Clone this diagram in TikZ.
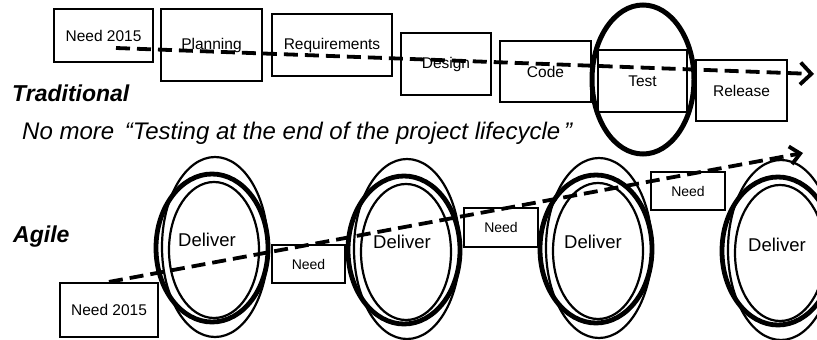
\documentclass[tikz,border=0pt]{standalone}
\usepackage{fontspec}
\setmainfont{Liberation Sans}
\usetikzlibrary{arrows.meta}
\newcommand{\deliverrings}[2]{%
\draw[ring]({#1+2},{#2-1}) ellipse [x radius=53,y radius=90];
\draw[thickring]({#1-1},#2) ellipse [x radius=56,y radius=74];
\draw[ring]({#1+1},{#2+2}) ellipse [x radius=45,y radius=68];}
\begin{document}
\begin{tikzpicture}[x=1pt,y=-1pt,
stage/.style={draw,line width=2.2pt,inner sep=0pt,font=\fontsize{15.5}{18}\selectfont},
need/.style={draw,line width=2pt,inner sep=0pt,font=\fontsize{14}{16}\selectfont},
deliver/.style={inner sep=0pt,font=\fontsize{18.5}{21}\selectfont},
flow/.style={line width=3.8pt,dash pattern=on 14pt off 7pt},
ring/.style={line width=2.2pt},
thickring/.style={line width=4.8pt},
head/.style={anchor=west,inner sep=0pt,font=\fontsize{23}{26}\selectfont\bfseries\itshape}]
\useasboundingbox(0,0) rectangle (817,340);
% traditional
\node[stage,minimum width=99,minimum height=53](tneed) at (103.5,35.5){Need 2015};
\node[stage,minimum width=101,minimum height=72](plan) at (211.5,45){Planning};
\node[stage,minimum width=120,minimum height=62](req) at (332,45){Requirements};
\node[stage,minimum width=90,minimum height=62](design) at (446,64){Design};
\node[stage,minimum width=91,minimum height=61](code) at (545.5,71.5){Code};
\node[stage,minimum width=89,minimum height=62](test) at (642.5,81){Test};
\node[stage,minimum width=91,minimum height=61](release) at (741.5,90.5){Release};
\draw[line width=5pt](643,79.5) ellipse [x radius=51,y radius=74.5];
\coordinate(tstart) at (116,48);
\coordinate(tend) at (814,74);
\draw[flow,-{Straight Barb[length=11pt,width=22pt]}](tstart)--(tend);
\node[head](trad) at (12,93){Traditional};
\node[anchor=west,inner sep=0pt,font=\fontsize{24}{27}\selectfont\itshape](nomore) at (22,133){No more \,“Testing at the end of the project lifecycle\,”};
% agile
\node[head](agile) at (13,237){Agile};
\deliverrings{213}{248}
\deliverrings{405}{250}
\deliverrings{597}{249}
\deliverrings{779}{251}
\node[deliver](d1) at (207,240){Deliver};
\node[deliver](d2) at (402,242){Deliver};
\node[deliver](d3) at (593,242){Deliver};
\node[deliver](d4) at (777,245){Deliver};
\node[stage,minimum width=98,minimum height=54](aneed) at (109,310){Need 2015};
\node[need,minimum width=73,minimum height=38](need1) at (308.5,264){Need};
\node[need,minimum width=74,minimum height=39](need2) at (501,227.5){Need};
\node[need,minimum width=74,minimum height=38](need3) at (688,191){Need};
\coordinate(aend) at (803,153);
\draw[flow,-{Straight Barb[length=10pt,width=18pt]}](aneed.north)--(aend);
\end{tikzpicture}
\end{document}
